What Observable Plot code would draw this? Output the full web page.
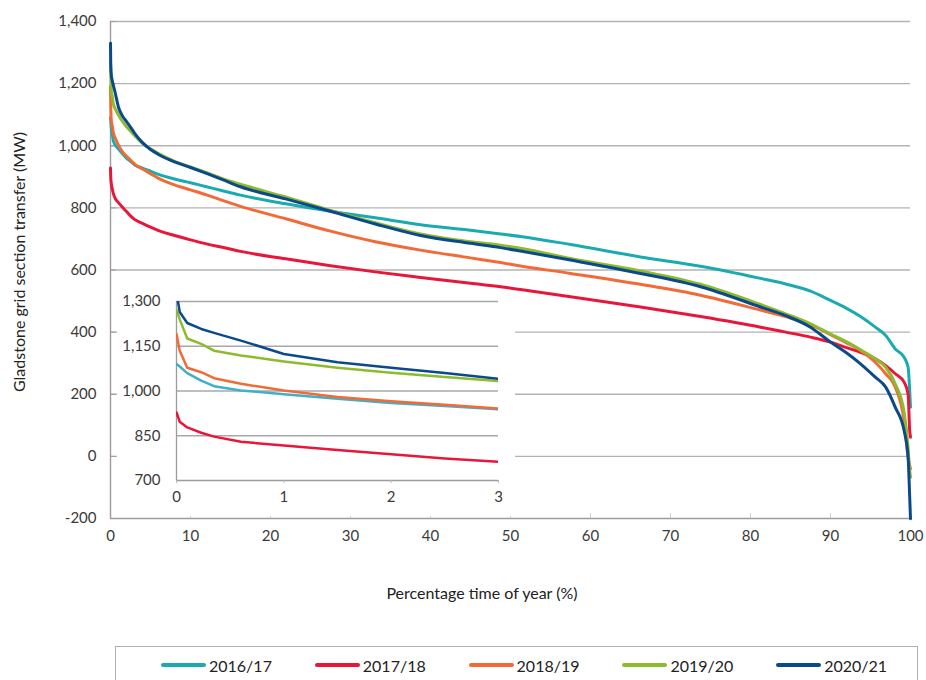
<!DOCTYPE html>
<html><head><meta charset="utf-8">
<script src="https://cdn.jsdelivr.net/npm/d3@7"></script>
<script src="https://cdn.jsdelivr.net/npm/@observablehq/plot@0.6"></script>
<style>
body{margin:0;background:#fff;font-family:Lato,"Open Sans",sans-serif;}
#wrap{position:relative;width:926px;height:680px;overflow:hidden;background:#fff;}
#main{position:absolute;left:0;top:0;}
#inset{position:absolute;left:117px;top:291px;width:398px;height:225px;background:#fff;}
.ytitle{position:absolute;left:18px;top:262px;transform:translate(-50%,-50%) rotate(-90deg);white-space:nowrap;font-size:16px;color:#222;}
.xtitle{position:absolute;left:482px;top:592px;transform:translate(-50%,-50%);white-space:nowrap;font-size:16px;color:#222;}
#legend{position:absolute;left:115px;top:646px;width:803px;height:44px;border:1px solid #b0b0b0;box-sizing:border-box;}
.li{position:absolute;top:9px;height:18px;display:flex;align-items:center;font-size:16px;color:#222;}
.sw{width:45px;height:4px;border-radius:2px;margin-right:3px;}
</style></head><body>
<div id="wrap">
  <div id="main"></div>
  <div id="inset"></div>
  <div class="ytitle">Gladstone grid section transfer (MW)</div>
  <div class="xtitle">Percentage time of year (%)</div>
  <div id="legend"></div>
</div>
<script>
// Percentage time of year (x positions of the read-off points)
const pct = [0, 0.03, 0.1, 0.23, 0.35, 0.6, 1, 1.5, 2, 2.5, 3, 4, 5, 6, 8, 10, 12, 14, 16.25, 21.9, 27.5, 33.1, 38.75, 45, 48.75, 51.25, 57.5, 66.25, 73.75, 81.25, 84.4, 87.5, 90, 91.9, 93.75, 95.6, 96.9, 98.1, 99.2, 99.7, 99.9, 100];

// Gladstone grid section transfer (MW)
const fy2016_17 = [1091, 1082, 1060, 1035, 1016, 1002, 989, 974, 960, 950, 939, 928, 918, 908, 893, 881, 868, 855, 841, 813, 789, 768, 746, 728, 716, 708, 682, 642, 612, 573, 555, 532, 502, 478, 450, 416, 389, 346, 319, 287, 212, 158];
const fy2017_18 = [928, 897, 878, 860, 847, 830, 817, 802, 788, 774, 763, 750, 738, 727, 711, 697, 684, 673, 660, 636, 614, 594, 576, 557, 546, 537, 514, 481, 450, 416, 400, 384, 368, 351, 335, 314, 292, 266, 239, 201, 83, 62];
const fy2018_19 = [1191, 1135, 1078, 1063, 1043, 1024, 1002, 980, 966, 954, 941, 925, 910, 895, 874, 858, 842, 824, 805, 765, 725, 691, 664, 639, 624, 613, 589, 554, 519, 471, 450, 424, 392, 367, 341, 303, 266, 223, 115, -3, -30, -40];
const fy2019_20 = [1272, 1240, 1176, 1158, 1135, 1119, 1099, 1078, 1061, 1047, 1033, 1008, 990, 975, 950, 932, 913, 894, 876, 835, 792, 752, 716, 691, 680, 670, 637, 597, 554, 489, 459, 427, 394, 370, 343, 314, 287, 233, 142, 29, -46, -67];
const fy2020_21 = [1330, 1265, 1228, 1208, 1195, 1169, 1124, 1096, 1078, 1060, 1041, 1010, 988, 972, 948, 930, 911, 891, 868, 829, 789, 748, 711, 686, 672, 661, 632, 589, 546, 481, 453, 416, 368, 335, 298, 255, 223, 158, 83, -3, -131, -201];

const seriesNames = ["2016/17", "2017/18", "2018/19", "2019/20", "2020/21"];
const seriesValues = [fy2016_17, fy2017_18, fy2018_19, fy2019_20, fy2020_21];
const seriesColors = ["#1aabb0", "#e8173a", "#f26b36", "#8dbb2e", "#0b4a8a"];

const mainXTicks = [0, 10, 20, 30, 40, 50, 60, 70, 80, 90, 100];
const mainYTicks = [-200, 0, 200, 400, 600, 800, 1000, 1200, 1400];
const insetXTicks = [0, 1, 2, 3];
const insetYTicks = [700, 850, 1000, 1150, 1300];

const rows = seriesNames.flatMap((s, i) => seriesValues[i].map((v, j) => ({pct: pct[j], mw: v, series: s})));
const fmt = d => d.toLocaleString("en-US");
const font = "Lato, 'Open Sans', sans-serif";

const main = Plot.plot({
  width: 926, height: 560,
  marginLeft: 110, marginRight: 16, marginTop: 21, marginBottom: 42,
  x: {domain: [0, 100]},
  y: {domain: [-200, 1400]},
  color: {domain: seriesNames, range: seriesColors},
  style: {fontFamily: font, fontSize: "15px", color: "#3a3a3a", background: "transparent"},
  marks: [
    Plot.gridY(mainYTicks.filter(d => d > -200), {stroke: "#b3b3b3", strokeOpacity: 1, strokeWidth: 1.4}),
    Plot.ruleY([-200], {stroke: "#9c9c9c", strokeWidth: 1.4}),
    Plot.ruleX([0], {stroke: "#9c9c9c", strokeWidth: 1.4}),
    Plot.ruleX(mainXTicks.slice(1), {y1: -200, y2: -184, stroke: "#cfcfcf"}),
    Plot.ruleY(mainYTicks, {x1: 0, x2: 0.7, stroke: "#9c9c9c"}),
    Plot.axisY({ticks: mainYTicks, tickSize: 0, tickPadding: 14, tickFormat: fmt, label: null}),
    Plot.axisX({ticks: mainXTicks, tickSize: 0, tickPadding: 12, tickFormat: d => String(d), label: null}),
    Plot.line(rows, {x: "pct", y: "mw", z: "series", stroke: "series", strokeWidth: 3, curve: "monotone-x"})
  ]
});
document.getElementById("main").appendChild(main);

const inset = Plot.plot({
  width: 398, height: 225,
  marginLeft: 59, marginRight: 17, marginTop: 10, marginBottom: 36,
  x: {domain: [0, 3]},
  y: {domain: [700, 1300]},
  color: {domain: seriesNames, range: ["#3fb0c9", "#e8173a", "#f26b36", "#8dbb2e", "#0b4a8a"]},
  style: {fontFamily: font, fontSize: "15px", color: "#3a3a3a", background: "#fff"},
  marks: [
    Plot.gridY(insetYTicks.filter(d => d > 700), {stroke: "#a8a8a8", strokeOpacity: 1, strokeWidth: 1.3}),
    Plot.ruleY([700], {stroke: "#9c9c9c", strokeWidth: 1.3}),
    Plot.ruleX([0], {stroke: "#9c9c9c", strokeWidth: 1.3}),
    Plot.axisY({ticks: insetYTicks, tickSize: 0, tickPadding: 16, tickFormat: fmt, label: null}),
    Plot.axisX({ticks: insetXTicks, tickSize: 3, tickPadding: 8, tickFormat: d => String(d), label: null, stroke: "#bbb"}),
    Plot.line(rows.filter(d => d.pct <= 3), {x: "pct", y: "mw", z: "series", stroke: "series", strokeWidth: 2.5, clip: true})
  ]
});
document.getElementById("inset").appendChild(inset);

const legend = document.getElementById("legend");
seriesNames.forEach((s, i) => {
  const item = document.createElement("div");
  item.className = "li";
  item.style.left = (45 + i * 153.8) + "px";
  const sw = document.createElement("div");
  sw.className = "sw";
  sw.style.background = seriesColors[i];
  const t = document.createElement("span");
  t.textContent = s;
  item.appendChild(sw);
  item.appendChild(t);
  legend.appendChild(item);
});
</script>
</body></html>
